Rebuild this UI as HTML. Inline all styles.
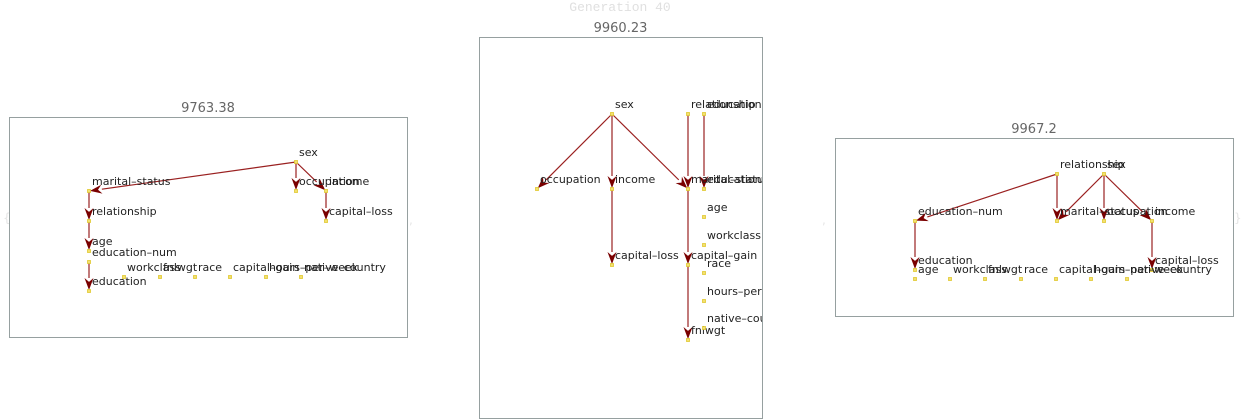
<!DOCTYPE html>
<html><head><meta charset="utf-8"><style>
body{margin:0;background:#fff}
svg{display:block}
text{font-family:"DejaVu Sans","Liberation Sans",sans-serif}
</style></head><body>
<svg id="c" width="1242" height="420" xmlns="http://www.w3.org/2000/svg">
<defs>
<clipPath id="cl0"><rect x="9" y="117" width="398" height="220"/></clipPath>
<clipPath id="cl1"><rect x="479" y="37" width="283" height="381"/></clipPath>
<clipPath id="cl2"><rect x="835" y="138" width="398" height="178"/></clipPath>
</defs>
<text x="620" y="11" text-anchor="middle" style="font-family:'Liberation Mono','DejaVu Sans Mono',monospace" font-size="13" fill="#e0e0e0">Generation 40</text>
<text x="3" y="222" font-size="12" fill="#e6e6e6">{</text>
<text x="409" y="224" font-size="12" fill="#e6e6e6">,</text>
<text x="822" y="224" font-size="12" fill="#e6e6e6">,</text>
<text x="1234" y="222" font-size="12" fill="#e6e6e6">}</text>
</svg>
<script>
const panelTitles=["9763.38","9960.23","9967.2"];
const panelBoxes=[[9,117,398,220],[479,37,283,381],[835,138,398,178]];
const nodes0={"sex":[296,162],"marital–status":[89,191],"occupation":[296,191],"income":[326,191],"capital–loss":[326,221],"relationship":[89,221],"age":[89,251],"education–num":[89,262],"education":[89,291],"workclass":[124,277],"fnlwgt":[160,277],"race":[195,277],"capital–gain":[230,277],"hours–per–week":[266,277],"native–country":[301,277]};
const edges0=[["sex","marital–status"],["sex","occupation"],["sex","income"],["marital–status","relationship"],["relationship","age"],["education–num","education"],["income","capital–loss"]];
const nodes1={"sex":[612,114],"relationship":[688,114],"education":[704,114],"occupation":[537,189],"income":[612,189],"marital–status":[688,189],"education–num":[704,189],"capital–loss":[612,265],"capital–gain":[688,265],"fnlwgt":[688,340],"age":[704,217],"workclass":[704,245],"race":[704,273],"hours–per–week":[704,301],"native–country":[704,328]};
const edges1=[["sex","occupation"],["sex","income"],["sex","marital–status"],["relationship","marital–status"],["education","education–num"],["income","capital–loss"],["marital–status","capital–gain"],["capital–gain","fnlwgt"]];
const nodes2={"relationship":[1057,174],"sex":[1104,174],"education–num":[915,221],"marital–status":[1057,221],"occupation":[1104,221],"income":[1152,221],"education":[915,270],"capital–loss":[1152,270],"age":[915,279],"workclass":[950,279],"fnlwgt":[985,279],"race":[1021,279],"capital–gain":[1056,279],"hours–per–week":[1091,279],"native–country":[1127,279]};
const edges2=[["relationship","education–num"],["relationship","marital–status"],["sex","marital–status"],["sex","occupation"],["sex","income"],["education–num","education"],["income","capital–loss"]];
const allNodes=[nodes0,nodes1,nodes2], allEdges=[edges0,edges1,edges2];
const svg=document.getElementById('c'), NS='http://www.w3.org/2000/svg';
function mk(t,a,p){const e=document.createElementNS(NS,t);for(const k in a)e.setAttribute(k,a[k]);(p||svg).appendChild(e);return e;}
panelTitles.forEach((title,i)=>{
  const [bx,by,bw,bh]=panelBoxes[i];
  const g=mk('g',{});
  
  
  const r=mk('rect',{x:bx+0.5,y:by+0.5,width:bw,height:bh,fill:'none',stroke:'#96a0a0','stroke-width':1},g);
  
  
  const t=mk('text',{x:bx+bw/2,y:by-5,'text-anchor':'middle','font-size':13,fill:'#666'},g);
  t.textContent=title;
  
  
  const inner=mk('g',{'clip-path':'url(#cl'+i+')'},g);
  const N=allNodes[i];
  allEdges[i].forEach(([a,b])=>{
    const [x1,y1]=N[a],[x2,y2]=N[b];
    const dx=x2-x1,dy=y2-y1,L=Math.hypot(dx,dy),ux=dx/L,uy=dy/L;
    const hl=13,hw=4.5;
    const bxp=x2-ux*hl,byp=y2-uy*hl;
    const l=mk('line',{x1:x1,y1:y1,x2:bxp,y2:byp,stroke:'#9a2020','stroke-width':1.2},inner);
    
    
    const p=mk('polygon',{points:`${x2-ux},${y2-uy} ${bxp-uy*hw},${byp+ux*hw} ${x2-ux*hl*0.7},${y2-uy*hl*0.7} ${bxp+uy*hw},${byp-ux*hw}`,fill:'#7a0000'},inner);
    
    
  });
  for(const name in N){
    const [x,y]=N[name];
    const s=mk('rect',{x:x-1.5,y:y-1.5,width:3,height:3,fill:'#f3e070',stroke:'#e0c830','stroke-width':0.8},inner);
    
    
    const tx=mk('text',{x:x+3,y:y-6,'font-size':11,fill:'#222'},inner);
    tx.textContent=name;
    
    
  }
});
</script>
</body></html>
